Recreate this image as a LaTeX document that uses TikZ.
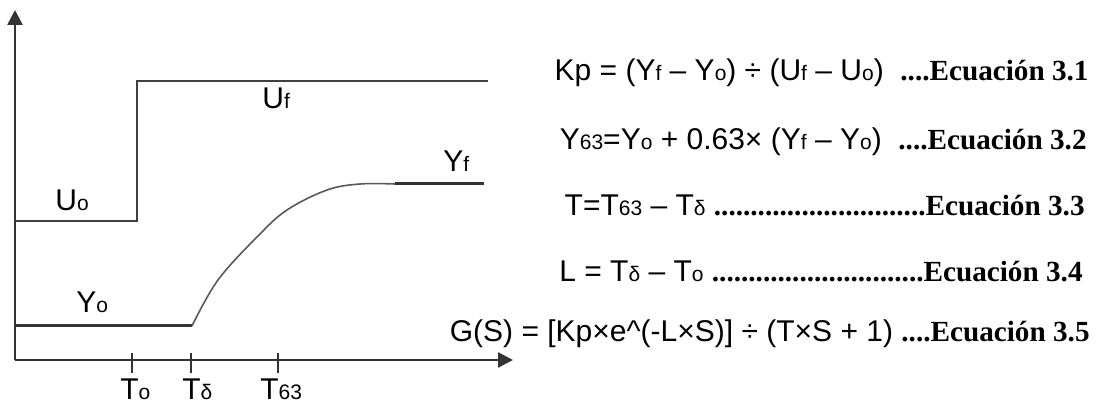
\documentclass[tikz,border=0pt]{standalone}
\usepackage{fontspec}
\setmainfont{Liberation Sans}
\newfontfamily\ecfont{Liberation Serif}
\usetikzlibrary{arrows.meta}
\newcommand{\sbs}[1]{{\fontsize{10.5}{11}\selectfont #1}}
\newcommand{\ecn}[1]{{\ecfont\bfseries\fontsize{14.6}{16}\selectfont #1}}
\tikzset{
  axisline/.style={line width=1.3pt,draw=black!80,
                   -{Triangle[length=7.5pt,width=7.5pt]}},
  uline/.style={line width=0.8pt,draw=black!75},
  yline/.style={line width=1.5pt,draw=black!80},
  ycurve/.style={line width=0.8pt,draw=black!65},
  tick/.style={line width=1.2pt,draw=black!80},
  lbl/.style={inner sep=0pt,anchor=base west,
              font=\fontsize{15}{16}\selectfont},
  eqn/.style={inner sep=0pt,anchor=base east,
              font=\fontsize{15}{16}\selectfont},
  every picture/.style={line cap=butt,line join=miter}}

\begin{document}
\begin{tikzpicture}[x=0.5pt,y=-0.5pt]
  \useasboundingbox (0,0) rectangle (1100,410);
  \coordinate (o) at (15,360);
  \coordinate (ytip) at (15,10); \coordinate (xtip) at (513,360);
  \draw[axisline] (o) -- (ytip);
  \draw[axisline] (o) -- (xtip);
  % step of the input
  \coordinate (u0) at (15,221); \coordinate (u1) at (137,221);
  \coordinate (u2) at (137,81); \coordinate (u3) at (488,81);
  \draw[uline] (u0) -- (u1) -- (u2) -- (u3);
  % response
  \coordinate (y0) at (15,326); \coordinate (y1) at (192,326);
  \coordinate (y2) at (395,184); \coordinate (y3) at (484,184);
  \draw[yline] (y0) -- (y1);
  \draw[ycurve] plot[smooth,tension=0.6] coordinates {(192,326) (218,280)
    (258,236) (287,210) (327,190) (360,184) (395,184)};
  \draw[yline] (y2) -- (y3);
  \node[lbl] (lUo) at (55,211) {U\sbs{o}};
  \node[lbl] (lUf) at (262,109) {U\sbs{f}};
  \node[lbl] (lYo) at (76,313) {Y\sbs{o}};
  \node[lbl] (lYf) at (443,172) {Y\sbs{f}};
  \foreach \x in {132,191,278}
    \draw[tick] (\x,353) -- (\x,373);
  \node[lbl] (tTo) at (120,400) {T\sbs{o}};
  \node[lbl] (tTd) at (182,400) {T\sbs{δ}};
  \node[lbl] (tT63) at (260,400) {T\sbs{63}};
  % equations
  \node[eqn] (eqa) at (1089,81)
    {Kp = (Y\sbs{f} – Y\sbs{o}) ÷ (U\sbs{f} – U\sbs{o})\ \ \ecn{....Ecuación 3.1}};
  \node[eqn] (eqb) at (1087,150)
    {Y\sbs{63}=Y\sbs{o} + 0.63× (Y\sbs{f} – Y\sbs{o})\ \ \ecn{....Ecuación 3.2}};
  \node[eqn] (eqc) at (1085,216)
    {T=T\sbs{63} – T\sbs{δ} \ecn{.............................Ecuación 3.3}};
  \node[eqn] (eqd) at (1083,282)
    {L = T\sbs{δ} – T\sbs{o} \ecn{.............................Ecuación 3.4}};
  \node[eqn] (eqe) at (1090,342)
    {G(S) = [Kp×e\textasciicircum(-L×S)] ÷ (T×S + 1)\ \ecn{....Ecuación 3.5}};
\end{tikzpicture}
\end{document}
